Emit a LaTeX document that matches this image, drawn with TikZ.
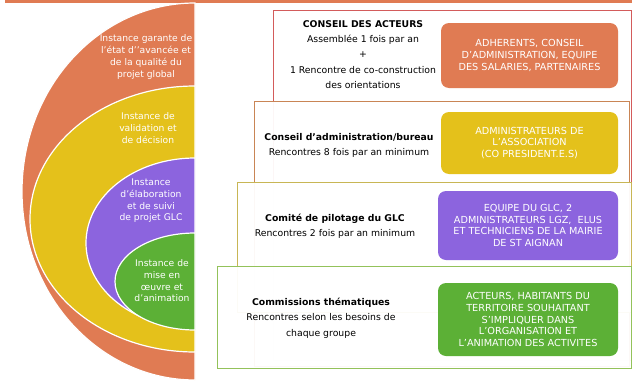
\documentclass[tikz,border=0pt]{standalone}
\usepackage{fontspec}
\setmainfont{DejaVu Sans}
\usetikzlibrary{positioning}

\definecolor{instorange}{HTML}{E07B53}
\definecolor{instyellow}{HTML}{E4C11B}
\definecolor{instpurple}{HTML}{8C64DE}
\definecolor{instgreen}{HTML}{5CB036}
\definecolor{edgered}{HTML}{D35B5B}
\definecolor{edgebrown}{HTML}{C98555}
\definecolor{edgeolive}{HTML}{C8B655}
\definecolor{edgegreen}{HTML}{93C25A}

\tikzset{
  halfdisk/.style={fill=#1, draw=white, line width=1.2pt},
  disktext/.style={text=white, align=center, font=\fontsize{9.2}{11.7}\selectfont},
  frame/.style={draw=#1, line width=1.1pt, fill=white, fill opacity=0.95, text opacity=1,
    anchor=north west, inner sep=0pt},
  members/.style={fill=#1, rounded corners=8pt, text=white, align=center, inner sep=0pt,
    font=\fontsize{9.7}{11.8}\selectfont},
  meeting/.style={align=center, font=\fontsize{9.3}{15.3}\selectfont},
}

\begin{document}
\begin{tikzpicture}[x=1pt, y=-1pt]
  \useasboundingbox (0,0) rectangle (632,383);
  \fill[instorange] (5,0) rectangle (632,2.5);

  % nested half-disks
  \path[halfdisk=instorange] (195,3) arc[start angle=-90, end angle=-270, x radius=173, y radius=188.5] -- cycle;
  \path[halfdisk=instyellow] (195,86) arc[start angle=-90, end angle=-270, x radius=165, y radius=133] -- cycle;
  \path[halfdisk=instpurple] (195,158) arc[start angle=-90, end angle=-270, x radius=109, y radius=85] -- cycle;
  \path[halfdisk=instgreen] (195,233) arc[start angle=-90, end angle=-270, x radius=80, y radius=48.5] -- cycle;

  \node[disktext] (garante) at (146,57) {Instance garante de\\l'état d'{}'avancée et\\de la qualité du\\projet global};
  \node[disktext] (validation) at (148,128) {Instance de\\validation et\\de décision};
  \node[disktext] (elaboration) at (151,201) {Instance\\d'élaboration\\et de suivi\\de projet GLC};
  \node[disktext] (animation) at (162,281) {Instance de\\mise en\\œuvre et\\d'animation};

  % stacked frames
  \node[frame=edgered, minimum width=358pt, minimum height=350pt] (acteursbox) at (273,10) {};
  \node[frame=edgebrown, minimum width=375pt, minimum height=265pt] (bureaubox) at (254,101) {};
  \node[frame=edgeolive, minimum width=394pt, minimum height=130pt] (copilbox) at (237,182) {};
  \node[frame=edgegreen, minimum width=414pt, minimum height=102pt] (commbox) at (217,266) {};

  % who takes part
  \node[members=instorange, minimum width=177pt, minimum height=65pt] (acteursmem) at (529.5,55.5)
    {ADHERENTS, CONSEIL\\D'ADMINISTRATION, EQUIPE\\DES SALARIES, PARTENAIRES};
  \node[members=instyellow, minimum width=177pt, minimum height=62pt] (bureaumem) at (529.5,143)
    {ADMINISTRATEURS DE\\L'ASSOCIATION\\(CO PRESIDENT.E.S)};
  \node[members=instpurple, minimum width=180pt, minimum height=69pt] (copilmem) at (528,225.5)
    {EQUIPE DU GLC, 2\\ADMINISTRATEURS LGZ,~ ELUS\\ET TECHNICIENS DE LA MAIRIE\\DE ST AIGNAN};
  \node[members=instgreen, minimum width=180pt, minimum height=73pt] (commmem) at (528,319.5)
    {ACTEURS, HABITANTS DU\\TERRITOIRE SOUHAITANT\\S'IMPLIQUER DANS\\L'ORGANISATION ET\\L'ANIMATION DES ACTIVITES};

  % meetings
  \node[meeting] (acteurstxt) at (363,54.5)
    {\textbf{CONSEIL DES ACTEURS}\\Assemblée 1 fois par an\\+\\1 Rencontre de co-construction\\des orientations};
  \node[meeting] (bureautxt) at (349,145.5)
    {\textbf{Conseil d'administration/bureau}\\Rencontres 8 fois par an minimum};
  \node[meeting] (copiltxt) at (335,226)
    {\textbf{Comité de pilotage du GLC}\\Rencontres 2 fois par an minimum};
  \node[meeting] (commtxt) at (321,318)
    {\textbf{Commissions thématiques}\\Rencontres selon les besoins de\\chaque groupe};
\end{tikzpicture}
\end{document}
